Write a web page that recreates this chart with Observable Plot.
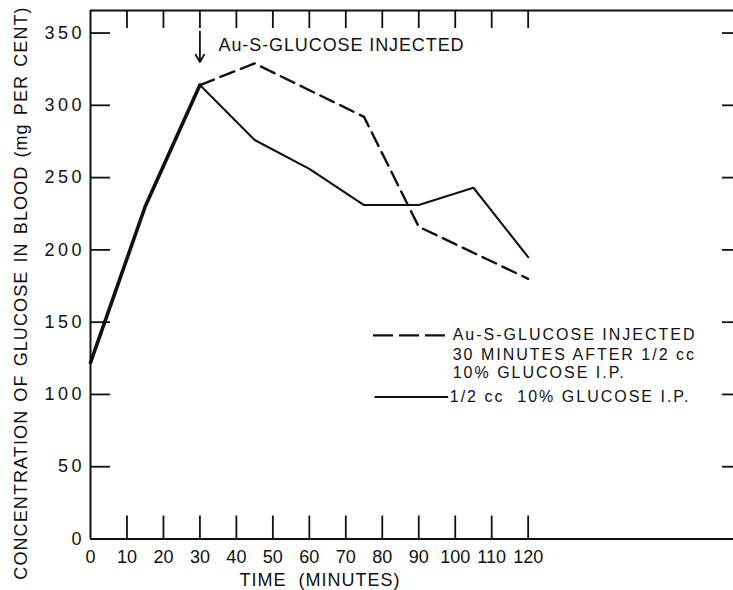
<!DOCTYPE html>
<html><head><meta charset="utf-8">
<script src="https://cdn.jsdelivr.net/npm/d3@7"></script>
<script src="https://cdn.jsdelivr.net/npm/@observablehq/plot@0.6"></script>
<style>body{margin:0;background:#fff}svg{display:block}</style>
</head><body><div id="chart"></div>
<script>
// ---- data ----
const solidTime = [0, 15, 30, 45, 60, 75, 90, 105, 120];
const solidGlucose = [122, 230, 314, 276, 256, 231, 231, 243, 195];
const dashedTime = [0, 15, 30, 45, 75, 90, 120];
const dashedGlucose = [122, 230, 314, 329, 292, 216, 180];
const xTickValues = [0, 10, 20, 30, 40, 50, 60, 70, 80, 90, 100, 110, 120];
const yTickValues = [0, 50, 100, 150, 200, 250, 300, 350];
const dashedLegendLines = ["Au-S-GLUCOSE INJECTED", "30 MINUTES AFTER 1/2 cc", "10% GLUCOSE I.P."];
const solidLegendLines = ["1/2 cc  10% GLUCOSE I.P."];
const annotationText = "Au-S-GLUCOSE INJECTED";
const injectionTime = 30;
const xLabel = "TIME (MINUTES)";
const yLabel = "CONCENTRATION OF GLUCOSE IN BLOOD (mg PER CENT)";

// ---- layout ----
const W = 733, H = 590;
const mL = 90, mR = 0, mT = 10, mB = 51.5;
const frameW = W - mL - mR, frameH = H - mT - mB;
const xMax = 176.3, yMax = 365.6;
const font = "'Liberation Sans', Arial, sans-serif";

const solid = solidTime.map((t, i) => ({t, v: solidGlucose[i]}));
const dashed = dashedTime.map((t, i) => ({t, v: dashedGlucose[i]}));
const dashedEarly = dashed.filter(d => d.t <= injectionTime);
const dashedLate = dashed.filter(d => d.t >= injectionTime);

// legend positions in data units
const legX1 = 77.6, legX2 = 98.2, legTextX = 99.3;
const dashedLegendY = [140.9, 127.7, 114.6];
const solidLegendY = 98.2;
const legendDashed = dashedLegendLines.map((s, i) => ({s, y: dashedLegendY[i]}));
const legendSolid = solidLegendLines.map(s => ({s, y: solidLegendY}));

const plot = Plot.plot({
  width: W, height: H,
  marginLeft: mL, marginRight: mR, marginTop: mT, marginBottom: mB,
  x: {domain: [0, xMax]},
  y: {domain: [0, yMax]},
  style: {fontFamily: font, fontSize: "18px", color: "#111", background: "#fff", overflow: "visible"},
  marks: [
    // frame: left, bottom, top
    Plot.ruleX([0], {stroke: "#111", strokeWidth: 2}),
    Plot.ruleY([0], {stroke: "#111", strokeWidth: 2}),
    Plot.ruleY([yMax], {stroke: "#111", strokeWidth: 1.8}),
    // inward ticks
    Plot.tickX(xTickValues.filter(d => d > 0), {x: d => d, insetTop: frameH - 23, stroke: "#111", strokeWidth: 1.8}),
    Plot.tickX(xTickValues.filter(d => d > 0), {x: d => d, insetBottom: frameH - 18, stroke: "#111", strokeWidth: 1.8}),
    Plot.tickY(yTickValues.filter(d => d > 0), {y: d => d, insetRight: frameW - 20, stroke: "#111", strokeWidth: 1.8}),
    Plot.tickY(yTickValues.filter(d => d > 0), {y: d => d, insetLeft: frameW - 11, stroke: "#111", strokeWidth: 1.8}),
    // axes labels
    Plot.axisX({ticks: xTickValues, tickSize: 0, tickPadding: 11, label: null, fontSize: 18}),
    Plot.axisY({ticks: yTickValues, tickSize: 0, tickPadding: 9, label: null, fontSize: 18}),
    // series
    Plot.line(dashedEarly, {x: "t", y: "v", stroke: "#111", strokeWidth: 3.6}),
    Plot.line(dashedLate, {x: "t", y: "v", stroke: "#111", strokeWidth: 2.4, strokeDasharray: "15,7"}),
    Plot.line(solid, {x: "t", y: "v", stroke: "#111", strokeWidth: 2.1}),
    // annotation
    Plot.arrow([injectionTime], {x1: d => d, x2: d => d, y1: 351, y2: 330, stroke: "#111", strokeWidth: 1.8, headLength: 7}),
    Plot.text([annotationText], {x: 35.1, y: 341.6, text: d => d, textAnchor: "start", fontSize: 18, fill: "#111"}),
    // legend
    Plot.ruleY([dashedLegendY[0]], {x1: legX1, x2: legX2, stroke: "#111", strokeWidth: 2.2, strokeDasharray: "20,6"}),
    Plot.text(legendDashed, {x: legTextX, y: "y", text: "s", textAnchor: "start", fontSize: 16, fill: "#111", className: "legend-text"}),
    Plot.ruleY([solidLegendY], {x1: legX1 + 0.4, x2: legX2, stroke: "#111", strokeWidth: 2}),
    Plot.text(legendSolid, {x: legTextX - 0.8, y: "y", text: "s", textAnchor: "start", fontSize: 16, fill: "#111", className: "legend-text"})
  ]
});

document.getElementById("chart").appendChild(plot);
const svg = d3.select(plot);
svg.selectAll("text").attr("letter-spacing", "0.9px");
svg.selectAll('g[aria-label="y-axis tick label"] text').attr("letter-spacing", "3.5px").attr("dx", "3.5px");
svg.selectAll('g[aria-label="x-axis tick label"] text').attr("letter-spacing", "0px");
svg.selectAll('g[aria-label="text"]').filter(function() { return this.getAttribute("font-size") === "16"; })
  .selectAll("text").attr("letter-spacing", "2px");
svg.selectAll(".legend-text text").attr("letter-spacing", "2px");

// axis titles
svg.append("text")
  .attr("x", 320).attr("y", 580).attr("dy", "0.35em")
  .attr("text-anchor", "middle")
  .attr("font-family", font).attr("font-size", 18).attr("fill", "#111")
  .attr("letter-spacing", "1px").attr("word-spacing", "6px")
  .text(xLabel);
svg.append("text")
  .attr("transform", "translate(21,293) rotate(-90)")
  .attr("dy", "0.35em")
  .attr("text-anchor", "middle")
  .attr("font-family", font).attr("font-size", 18).attr("fill", "#111")
  .attr("letter-spacing", "1.1px").attr("word-spacing", "2px")
  .text(yLabel);
</script>
</body></html>
